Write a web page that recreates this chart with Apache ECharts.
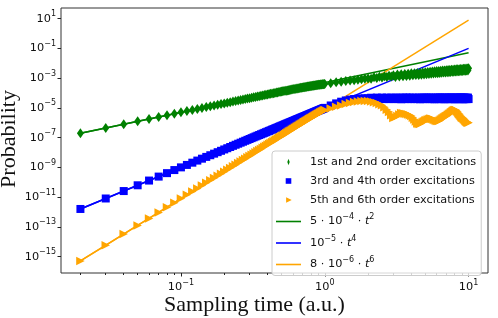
<!DOCTYPE html>
<html><head><meta charset="utf-8">
<script src="https://cdn.jsdelivr.net/npm/echarts@6/dist/echarts.min.js"></script>
<style>html,body{margin:0;padding:0;background:#fff}#c{width:498px;height:318px}</style>
</head><body><div id="c"></div>
<script>
// Sampling times (a.u.)
const times = [
 0.02,0.03,0.04,0.05,0.06,0.07,0.08,0.09,0.10,
 0.11,0.12,0.13,0.14,0.15,0.16,0.17,0.18,0.19,0.20,
 0.21,0.22,0.23,0.24,0.25,0.26,0.27,0.28,0.29,0.30,
 0.31,0.32,0.33,0.34,0.35,0.36,0.37,0.38,0.39,0.40,
 0.41,0.42,0.43,0.44,0.45,0.46,0.47,0.48,0.49,0.50,
 0.51,0.52,0.53,0.54,0.55,0.56,0.57,0.58,0.59,0.60,
 0.61,0.62,0.63,0.64,0.65,0.66,0.67,0.68,0.69,0.70,
 0.71,0.72,0.73,0.74,0.75,0.76,0.77,0.78,0.79,0.80,
 0.81,0.82,0.83,0.84,0.85,0.86,0.87,0.88,0.89,0.90,
 0.91,0.92,0.93,0.94,0.95,0.96,0.97,0.98,0.99,1.00,
 1.1,1.2,1.3,1.4,1.5,1.6,1.7,1.8,1.9,2.0,
 2.1,2.2,2.3,2.4,2.5,2.6,2.7,2.8,2.9,3.0,
 3.1,3.2,3.3,3.4,3.5,3.6,3.7,3.8,3.9,4.0,
 4.1,4.2,4.3,4.4,4.5,4.6,4.7,4.8,4.9,5.0,
 5.1,5.2,5.3,5.4,5.5,5.6,5.7,5.8,5.9,6.0,
 6.1,6.2,6.3,6.4,6.5,6.6,6.7,6.8,6.9,7.0,
 7.1,7.2,7.3,7.4,7.5,7.6,7.7,7.8,7.9,8.0,
 8.1,8.2,8.3,8.4,8.5,8.6,8.7,8.8,8.9,9.0,
 9.1,9.2,9.3,9.4,9.5,9.6,9.7,9.8,9.9,10.0
];
// 1st and 2nd order excitations
const order12 = [
 2.0e-7,4.5e-7,8.0e-7,1.25e-6,1.8e-6,2.45e-6,3.2e-6,4.05e-6,5.0e-6,
 6.05e-6,7.2e-6,8.45e-6,9.8e-6,1.13e-5,1.28e-5,1.45e-5,1.62e-5,1.8e-5,2.0e-5,
 2.2e-5,2.42e-5,2.65e-5,2.88e-5,3.13e-5,3.38e-5,3.65e-5,3.92e-5,4.2e-5,4.5e-5,
 4.81e-5,5.12e-5,5.45e-5,5.78e-5,6.13e-5,6.48e-5,6.85e-5,7.22e-5,7.61e-5,8.0e-5,
 8.41e-5,8.82e-5,9.25e-5,9.68e-5,1.01e-4,1.06e-4,1.10e-4,1.15e-4,1.20e-4,1.25e-4,
 1.29e-4,1.34e-4,1.39e-4,1.44e-4,1.49e-4,1.55e-4,1.60e-4,1.65e-4,1.71e-4,1.76e-4,
 1.82e-4,1.87e-4,1.93e-4,1.98e-4,2.04e-4,2.10e-4,2.15e-4,2.21e-4,2.27e-4,2.33e-4,
 2.39e-4,2.45e-4,2.51e-4,2.57e-4,2.63e-4,2.69e-4,2.75e-4,2.82e-4,2.88e-4,2.94e-4,
 3.00e-4,3.06e-4,3.12e-4,3.18e-4,3.23e-4,3.29e-4,3.35e-4,3.41e-4,3.47e-4,3.52e-4,
 3.57e-4,3.62e-4,3.67e-4,3.72e-4,3.77e-4,3.82e-4,3.86e-4,3.91e-4,3.95e-4,4.0e-4,
 4.6e-4,5.2e-4,5.8e-4,6.3e-4,6.8e-4,7.3e-4,7.8e-4,8.3e-4,9.0e-4,9.5e-4,
 0.92e-3,1.13e-3,1.01e-3,1.23e-3,1.09e-3,1.32e-3,1.17e-3,1.43e-3,1.26e-3,1.55e-3,
 1.20e-3,1.73e-3,1.27e-3,1.81e-3,1.33e-3,1.87e-3,1.39e-3,1.98e-3,1.47e-3,2.09e-3,
 1.54e-3,2.16e-3,1.59e-3,2.24e-3,1.64e-3,2.32e-3,1.71e-3,2.42e-3,1.78e-3,2.52e-3,
 1.84e-3,2.59e-3,1.89e-3,2.67e-3,1.96e-3,2.76e-3,2.03e-3,2.85e-3,2.09e-3,2.96e-3,
 2.16e-3,3.01e-3,2.21e-3,3.11e-3,2.27e-3,3.20e-3,2.34e-3,3.29e-3,2.41e-3,3.39e-3,
 2.47e-3,3.45e-3,2.52e-3,3.54e-3,2.59e-3,3.62e-3,2.65e-3,3.71e-3,2.71e-3,3.81e-3,
 2.77e-3,3.88e-3,2.82e-3,3.93e-3,2.86e-3,4.00e-3,2.92e-3,4.09e-3,2.99e-3,4.17e-3,
 3.05e-3,4.26e-3,3.10e-3,4.32e-3,3.15e-3,4.40e-3,3.21e-3,4.49e-3,3.27e-3,4.58e-3
];
// 3rd and 4th order excitations
const order34 = [
 1.6e-12,8.1e-12,2.56e-11,6.25e-11,1.3e-10,2.4e-10,4.1e-10,6.6e-10,1.0e-9,
 1.46e-9,2.07e-9,2.86e-9,3.84e-9,5.06e-9,6.55e-9,8.35e-9,1.05e-8,1.3e-8,1.6e-8,
 1.94e-8,2.34e-8,2.8e-8,3.32e-8,3.9e-8,4.57e-8,5.31e-8,6.15e-8,7.07e-8,8.1e-8,
 9.24e-8,1.05e-7,1.19e-7,1.34e-7,1.50e-7,1.68e-7,1.87e-7,2.09e-7,2.31e-7,2.56e-7,
 2.83e-7,3.11e-7,3.42e-7,3.75e-7,4.10e-7,4.48e-7,4.88e-7,5.31e-7,5.76e-7,6.25e-7,
 6.77e-7,7.31e-7,7.89e-7,8.50e-7,9.15e-7,9.83e-7,1.06e-6,1.13e-6,1.21e-6,1.30e-6,
 1.38e-6,1.48e-6,1.58e-6,1.68e-6,1.79e-6,1.90e-6,2.02e-6,2.14e-6,2.27e-6,2.40e-6,
 2.54e-6,2.69e-6,2.84e-6,3.00e-6,3.16e-6,3.34e-6,3.52e-6,3.70e-6,3.90e-6,4.10e-6,
 4.30e-6,4.52e-6,4.75e-6,4.98e-6,5.22e-6,5.47e-6,5.73e-6,6.00e-6,6.27e-6,6.56e-6,
 6.86e-6,7.16e-6,7.48e-6,7.81e-6,8.15e-6,8.49e-6,8.85e-6,9.22e-6,9.61e-6,1.0e-5,
 1.45e-5,2.0e-5,2.6e-5,3.15e-5,3.6e-5,3.9e-5,4.1e-5,4.25e-5,4.35e-5,4.4e-5,
 4.8e-5,4.0e-5,4.9e-5,3.9e-5,4.9e-5,3.9e-5,4.9e-5,3.9e-5,4.9e-5,3.9e-5,
 4.9e-5,3.9e-5,4.9e-5,3.8e-5,4.9e-5,3.9e-5,5.0e-5,3.9e-5,4.9e-5,3.9e-5,
 4.9e-5,3.9e-5,4.8e-5,3.9e-5,4.9e-5,3.8e-5,4.9e-5,3.9e-5,4.9e-5,3.9e-5,
 5.0e-5,3.9e-5,4.9e-5,3.9e-5,4.9e-5,3.9e-5,4.8e-5,3.8e-5,4.9e-5,3.9e-5,
 4.9e-5,3.9e-5,5.0e-5,3.9e-5,4.9e-5,3.9e-5,4.9e-5,3.8e-5,4.9e-5,3.9e-5,
 4.9e-5,3.9e-5,4.9e-5,3.9e-5,5.0e-5,3.9e-5,4.9e-5,3.9e-5,4.8e-5,3.8e-5,
 4.9e-5,3.9e-5,4.9e-5,3.9e-5,4.9e-5,3.9e-5,5.0e-5,3.9e-5,4.9e-5,3.9e-5,
 4.9e-5,3.8e-5,4.9e-5,3.9e-5,4.9e-5,3.9e-5,4.8e-5,3.9e-5,4.9e-5,3.9e-5
];
// 5th and 6th order excitations
const order56 = [
 5.1e-16,5.8e-15,3.3e-14,1.25e-13,3.7e-13,9.4e-13,2.1e-12,4.25e-12,8.0e-12,
 1.42e-11,2.39e-11,3.86e-11,6.0e-11,9.1e-11,1.34e-10,1.93e-10,2.72e-10,3.76e-10,5.12e-10,
 6.9e-10,9.1e-10,1.18e-9,1.53e-9,1.95e-9,2.47e-9,3.1e-9,3.86e-9,4.76e-9,5.83e-9,
 7.10e-9,8.59e-9,1.03e-8,1.24e-8,1.47e-8,1.74e-8,2.05e-8,2.41e-8,2.81e-8,3.28e-8,
 3.80e-8,4.39e-8,5.06e-8,5.81e-8,6.64e-8,7.58e-8,8.62e-8,9.78e-8,1.11e-7,1.25e-7,
 1.41e-7,1.58e-7,1.77e-7,1.98e-7,2.21e-7,2.47e-7,2.74e-7,3.05e-7,3.37e-7,3.73e-7,
 4.12e-7,4.54e-7,5.00e-7,5.50e-7,6.03e-7,6.61e-7,7.24e-7,7.91e-7,8.63e-7,9.41e-7,
 1.025e-6,1.11e-6,1.21e-6,1.31e-6,1.42e-6,1.53e-6,1.65e-6,1.78e-6,1.91e-6,2.06e-6,
 2.20e-6,2.36e-6,2.53e-6,2.71e-6,2.90e-6,3.09e-6,3.30e-6,3.52e-6,3.75e-6,4.00e-6,
 4.25e-6,4.51e-6,4.79e-6,5.08e-6,5.38e-6,5.70e-6,6.03e-6,6.38e-6,6.74e-6,7.12e-6,
 9.1e-6,1.17e-5,1.45e-5,1.82e-5,2.14e-5,2.45e-5,2.69e-5,2.88e-5,2.95e-5,2.88e-5,
 2.69e-5,2.4e-5,2.09e-5,1.78e-5,1.48e-5,1.12e-5,7.6e-6,5.2e-6,3.2e-6,2.1e-6,
 2.4e-6,2.8e-6,3.6e-6,4.5e-6,4.4e-6,4.0e-6,3.8e-6,3.55e-6,3.2e-6,2.8e-6,
 2.2e-6,1.66e-6,1.2e-6,8.9e-7,8.3e-7,8.3e-7,9.6e-7,1.12e-6,1.26e-6,1.41e-6,
 1.53e-6,1.66e-6,1.78e-6,1.9e-6,1.86e-6,1.78e-6,1.64e-6,1.5e-6,1.4e-6,1.32e-6,
 1.3e-6,1.32e-6,1.44e-6,1.58e-6,1.78e-6,2.0e-6,2.2e-6,2.4e-6,2.6e-6,2.8e-6,
 3.1e-6,3.4e-6,3.8e-6,4.2e-6,4.7e-6,5.2e-6,5.7e-6,6.3e-6,6.8e-6,7.1e-6,
 7.1e-6,6.8e-6,6.0e-6,5.2e-6,4.4e-6,3.8e-6,3.3e-6,2.8e-6,2.5e-6,2.2e-6,
 2.05e-6,1.9e-6,1.7e-6,1.5e-6,1.35e-6,1.2e-6,1.12e-6,1.05e-6,1.02e-6,1.0e-6
];
// Power-law guide lines (end points)
const fitTimes = [0.02, 10];
const fitT2 = [2.0e-7, 5.0e-2];
const fitT4 = [1.6e-12, 1.0e-1];
const fitT6 = [5.12e-16, 8.0];

const seriesNames = ['1st and 2nd order excitations','3rd and 4th order excitations','5th and 6th order excitations','fit2','fit4','fit6'];
const legendLabels = {
  'fit2': '{n|5 · 10}{s|\u22124}{n| · }{i|t}{s|2}',
  'fit4': '{n|10}{s|\u22125}{n| · }{i|t}{s|4}',
  'fit6': '{n|8 · 10}{s|\u22126}{n| · }{i|t}{s|6}'
};
const yTicks = [1e-15,1e-13,1e-11,1e-9,1e-7,1e-5,1e-3,1e-1,1e1];
const xTicks = [0.1, 1, 10];
const xMinorTicks = [0.02,0.03,0.04,0.05,0.06,0.07,0.08,0.09,0.2,0.3,0.4,0.5,0.6,0.7,0.8,0.9,2,3,4,5,6,7,8,9];
const colors = ['#008000','#0000ff','#ffa500'];

function pairs(xs, ys){ return xs.map((x,i)=>[x, ys[i]]); }
function sci(v){
  const e = Math.round(Math.log10(v));
  return '{b|10}{s|' + (e < 0 ? '\u2212' + (-e) : String(e)) + '}';
}
const FONT = 'DejaVu Sans';
const tickRich = {
  b: {fontFamily: FONT, fontSize: 11.3, lineHeight: 12, color: '#111'},
  s: {fontFamily: FONT, fontSize: 8, lineHeight: 12, verticalAlign: 'bottom', padding: [0,0,6.5,0], color: '#111'}
};
const xMin = Math.pow(10,-1.834), xMax = Math.pow(10,1.135);
const yMin = Math.pow(10,-16.1), yMax = Math.pow(10,1.713);

const diamondPath = 'path://M3,0 L6,5 L3,10 L0,5 Z';
const squarePath = 'path://M0,0 L10,0 L10,10 L0,10 Z';
const triPath = 'path://M0,0 L10,5 L0,10 Z';
const lineIcon = 'path://M0,0 L25,0 L25,1.6 L0,1.6 Z';

const chart = echarts.init(document.getElementById('c'), null, {renderer: 'canvas'});
chart.setOption({
  animation: false,
  backgroundColor: '#fff',
  grid: {left: 61, right: 10, top: 8, bottom: 45, show: true, borderColor: '#333', borderWidth: 1, backgroundColor: 'transparent'},
  xAxis: [{
    type: 'log', logBase: 10, min: xMin, max: xMax, position: 'bottom',
    axisLine: {show: false}, splitLine: {show: false},
    axisTick: {show: true, inside: false, length: 3.5, lineStyle: {color: '#222', width: 1}, customValues: xTicks},
    axisLabel: {show: true, customValues: xTicks, formatter: sci, margin: 8, rich: tickRich}
  }, {
    type: 'log', logBase: 10, min: xMin, max: xMax, position: 'bottom',
    axisLine: {show: false}, splitLine: {show: false},
    axisTick: {show: true, inside: false, length: 2, lineStyle: {color: '#222', width: 1}, customValues: xMinorTicks},
    axisLabel: {show: false, customValues: xMinorTicks}
  }],
  yAxis: [{
    type: 'log', logBase: 10, min: yMin, max: yMax,
    axisLine: {show: false}, splitLine: {show: false},
    axisTick: {show: true, inside: false, length: 3.5, lineStyle: {color: '#222', width: 1}, customValues: yTicks},
    axisLabel: {show: true, customValues: yTicks, formatter: sci, margin: 5, rich: tickRich}
  }],
  legend: {
    orient: 'vertical', left: 272, top: 151, padding: [5,5,5,4], itemGap: 7, itemWidth: 25, itemHeight: 8,
    backgroundColor: 'rgba(255,255,255,0.8)', borderColor: '#cccccc', borderWidth: 1, borderRadius: 3,
    selectedMode: false,
    textStyle: {fontFamily: FONT, fontSize: 11.3, lineHeight: 12, color: '#111', padding: [0,0,0,4],
      rich: {
        n: {fontFamily: FONT, fontSize: 11.3, lineHeight: 12, color: '#111'},
        i: {fontFamily: FONT, fontStyle: 'italic', fontSize: 11.3, lineHeight: 12, color: '#111'},
        s: {fontFamily: FONT, fontSize: 8, lineHeight: 12, verticalAlign: 'bottom', padding: [0,0,6.5,0], color: '#111'}
      }},
    formatter: name => legendLabels[name] || name,
    data: [
      {name: seriesNames[0], icon: 'path://M0,0 M6,10 M3,1 L4.5,5 L3,9 L1.5,5 Z'},
      {name: seriesNames[1], icon: 'path://M0,0 M10,10 M1.5,1.5 L8.5,1.5 L8.5,8.5 L1.5,8.5 Z'},
      {name: seriesNames[2], icon: 'path://M0,0 M10,10 M2,1.5 L9,5 L2,8.5 Z'},
      {name: seriesNames[3], icon: lineIcon},
      {name: seriesNames[4], icon: lineIcon},
      {name: seriesNames[5], icon: lineIcon}
    ]
  },
  series: [
    {name: seriesNames[0], type: 'line', xAxisIndex: 0, data: pairs(times, order12), color: colors[0],
     symbol: diamondPath, symbolSize: [7, 10], showSymbol: true, lineStyle: {width: 1.5}, itemStyle: {color: colors[0]}},
    {name: seriesNames[1], type: 'line', xAxisIndex: 0, data: pairs(times, order34), color: colors[1],
     symbol: squarePath, symbolSize: 8, showSymbol: true, lineStyle: {width: 1.5}, itemStyle: {color: colors[1]}},
    {name: seriesNames[2], type: 'line', xAxisIndex: 0, data: pairs(times, order56), color: colors[2],
     symbol: triPath, symbolSize: 8.5, showSymbol: true, lineStyle: {width: 1.5}, itemStyle: {color: colors[2]}},
    {name: seriesNames[3], type: 'line', xAxisIndex: 0, data: pairs(fitTimes, fitT2), color: colors[0], symbol: 'none', lineStyle: {width: 1.5, color: colors[0]}},
    {name: seriesNames[4], type: 'line', xAxisIndex: 0, data: pairs(fitTimes, fitT4), color: colors[1], symbol: 'none', lineStyle: {width: 1.5, color: colors[1]}},
    {name: seriesNames[5], type: 'line', xAxisIndex: 0, data: pairs(fitTimes, fitT6), color: colors[2], symbol: 'none', lineStyle: {width: 1.5, color: colors[2]}}
  ],
  graphic: [
    {type: 'text', x: 254.5, y: 305.5, silent: true,
     style: {text: 'Sampling time (a.u.)', fontFamily: 'Liberation Serif', fontSize: 22, fill: '#111', align: 'center', verticalAlign: 'middle', textAlign: 'center', textVerticalAlign: 'middle'}},
    {type: 'text', x: 9, y: 139, rotation: Math.PI / 2, silent: true,
     style: {text: 'Probability', fontFamily: 'Liberation Serif', fontSize: 22, fill: '#111', align: 'center', verticalAlign: 'middle', textAlign: 'center', textVerticalAlign: 'middle'}}
  ]
});
</script></body></html>
